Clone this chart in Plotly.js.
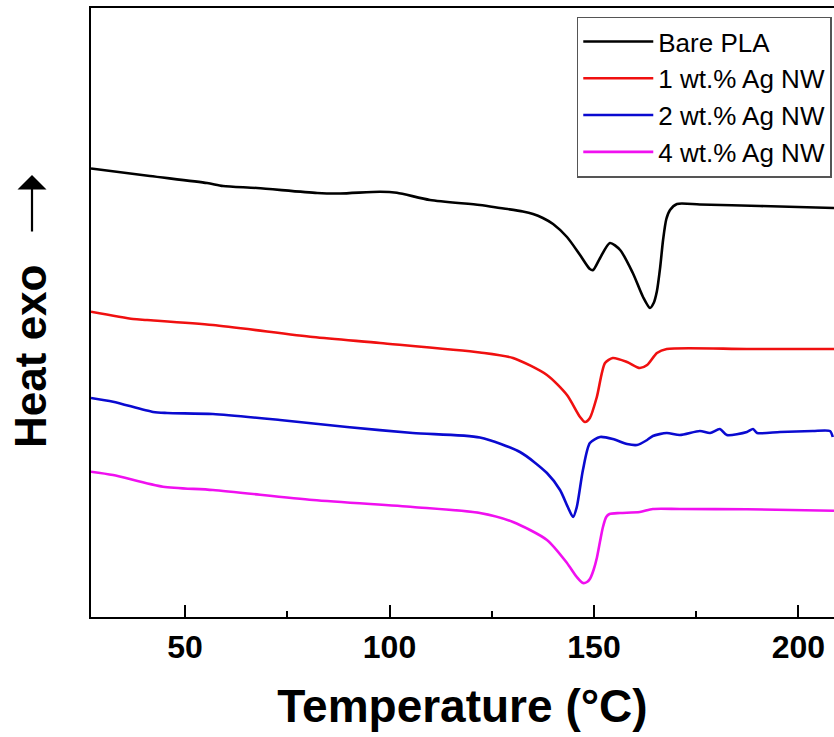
<!DOCTYPE html>
<html>
<head>
<meta charset="utf-8">
<script src="https://cdn.plot.ly/plotly-3.0.1.min.js"></script>
<style>html,body{margin:0;padding:0;background:#fff;}#chart{width:834px;height:737px;}</style>
</head>
<body>
<div id="chart"></div>
<script>
// Temperature (°C) and heat flow (arbitrary units, curves offset vertically)
const bareT = [27.0, 41.4, 55.4, 59.3, 67.6, 82.3, 87.9, 97.7, 101.8, 109.9, 122.1, 127.0, 132.6, 135.1, 137.5, 140.0, 143.4, 146.6, 149.0, 149.8, 151.5, 153.9, 156.4, 159.5, 162.0, 163.7, 164.6, 165.4, 166.2, 166.9, 167.7, 168.6, 170.3, 175.9, 190.6, 208.7];
const bareY = [44.85, 44.1, 43.4, 43.1, 42.9, 42.4, 42.35, 42.53, 42.43, 41.7, 41.2, 40.9, 40.55, 40.3, 39.9, 39.3, 38.0, 36.2, 34.8, 34.7, 35.9, 37.4, 36.7, 34.4, 32.0, 30.9, 31.4, 32.6, 35.0, 37.7, 39.8, 40.7, 41.3, 41.25, 41.1, 40.9];

const ag1T = [27.0, 37.3, 40.7, 56.8, 81.3, 97.7, 122.1, 130.2, 138.5, 143.4, 146.6, 147.8, 149.0, 150.7, 152.7, 154.6, 158.1, 161.2, 163.0, 165.4, 167.8, 187.4, 208.7];
const ag1Y = [30.53, 29.8, 29.7, 29.2, 28.0, 27.4, 26.45, 25.9, 24.2, 22.2, 20.0, 19.5, 19.9, 22.0, 25.4, 25.9, 25.5, 24.9, 25.2, 26.4, 26.8, 26.8, 26.8];

const ag2T = [27.0, 32.4, 42.2, 45.6, 56.8, 73.2, 89.6, 105.7, 122.1, 131.9, 138.5, 141.7, 143.6, 144.9, 145.8, 147.3, 149.0, 151.5, 154.6, 158.1, 160.5, 163.0, 164.4, 167.8, 171.0, 175.9, 178.4, 180.8, 182.5, 187.4, 188.9, 189.9, 195.5, 203.5, 207.7, 208.4];
const ag2Y = [21.9, 21.53, 20.5, 20.4, 20.3, 19.7, 19.0, 18.4, 17.95, 16.5, 14.4, 12.7, 11.0, 10.0, 11.0, 14.7, 17.4, 18.0, 17.8, 17.3, 17.2, 17.7, 18.1, 18.4, 18.2, 18.6, 18.4, 18.8, 18.2, 18.5, 18.8, 18.4, 18.5, 18.6, 18.6, 18.0];

const ag4T = [27.0, 32.4, 44.6, 56.8, 81.3, 105.7, 122.1, 130.2, 138.5, 143.4, 145.8, 147.3, 148.3, 149.0, 149.9, 150.7, 151.5, 152.2, 153.0, 153.8, 156.4, 161.2, 164.4, 171.0, 187.4, 208.7];
const ag4Y = [14.53, 14.2, 13.03, 12.7, 11.7, 11.0, 10.4, 9.5, 7.7, 5.4, 4.0, 3.4, 3.5, 3.8, 4.7, 5.9, 7.6, 9.0, 10.0, 10.3, 10.4, 10.5, 10.8, 10.8, 10.77, 10.63];

const seriesNames = ["Bare PLA", "1 wt.% Ag NW", "2 wt.% Ag NW", "4 wt.% Ag NW"];
const seriesColors = ["#000000", "#f01010", "#0a0ad0", "#f010f0"];
const xTicks = [50, 100, 150, 200];

const xs = [bareT, ag1T, ag2T, ag4T];
const ys = [bareY, ag1Y, ag2Y, ag4Y];
const traces = xs.map((x, i) => ({
  x: x, y: ys[i], type: "scatter", mode: "lines", name: seriesNames[i],
  line: {color: seriesColors[i], width: 2.6, shape: "spline", smoothing: 0.7}
}));

const FONT = "Liberation Sans, Arial, Helvetica, sans-serif";
const layout = {
  width: 834, height: 737,
  margin: {l: 91, r: 0, t: 8, b: 120},
  paper_bgcolor: "#fff", plot_bgcolor: "#fff",
  showlegend: true,
  legend: {
    x: 0.997, xanchor: "right", y: 0.986, yanchor: "top",
    bordercolor: "#555", borderwidth: 1.5, bgcolor: "#fff",
    font: {family: FONT, size: 26, color: "#000"},
    itemwidth: 70, tracegroupgap: 0
  },
  xaxis: {
    range: [27.0, 208.7],
    tickvals: xTicks, ticktext: xTicks.map(String),
    ticks: "inside", ticklen: 12, tickwidth: 2, tickcolor: "#000",
    minor: {dtick: 25, tick0: 0, ticks: "inside", ticklen: 6, tickwidth: 2, tickcolor: "#000"},
    showline: true, linewidth: 2.2, linecolor: "#000", mirror: true,
    showgrid: false, zeroline: false,
    tickfont: {family: FONT, size: 32, color: "#000", weight: 700},
    title: {text: "Temperature (°C)", font: {family: FONT, size: 46, color: "#000", weight: 700}, standoff: 26}
  },
  yaxis: {
    range: [0, 60.9],
    showticklabels: false, ticks: "",
    showline: true, linewidth: 2.2, linecolor: "#000", mirror: false,
    showgrid: false, zeroline: false
  },
  annotations: [
    {
      xref: "paper", yref: "paper", x: -0.0808, y: 0.4286, xanchor: "center", yanchor: "middle",
      text: "Heat exo", textangle: -90, showarrow: false,
      font: {family: FONT, size: 44, color: "#000", weight: 700}
    },
    {
      xref: "paper", yref: "paper", x: -0.0794, y: 0.7258,
      ax: 0, ay: 58, axref: "pixel", ayref: "pixel",
      text: "", showarrow: true, arrowhead: 1, arrowsize: 2.2, arrowwidth: 2.2, arrowcolor: "#000"
    }
  ]
};

Plotly.newPlot("chart", traces, layout, {displayModeBar: false, staticPlot: true});
</script>
</body>
</html>
